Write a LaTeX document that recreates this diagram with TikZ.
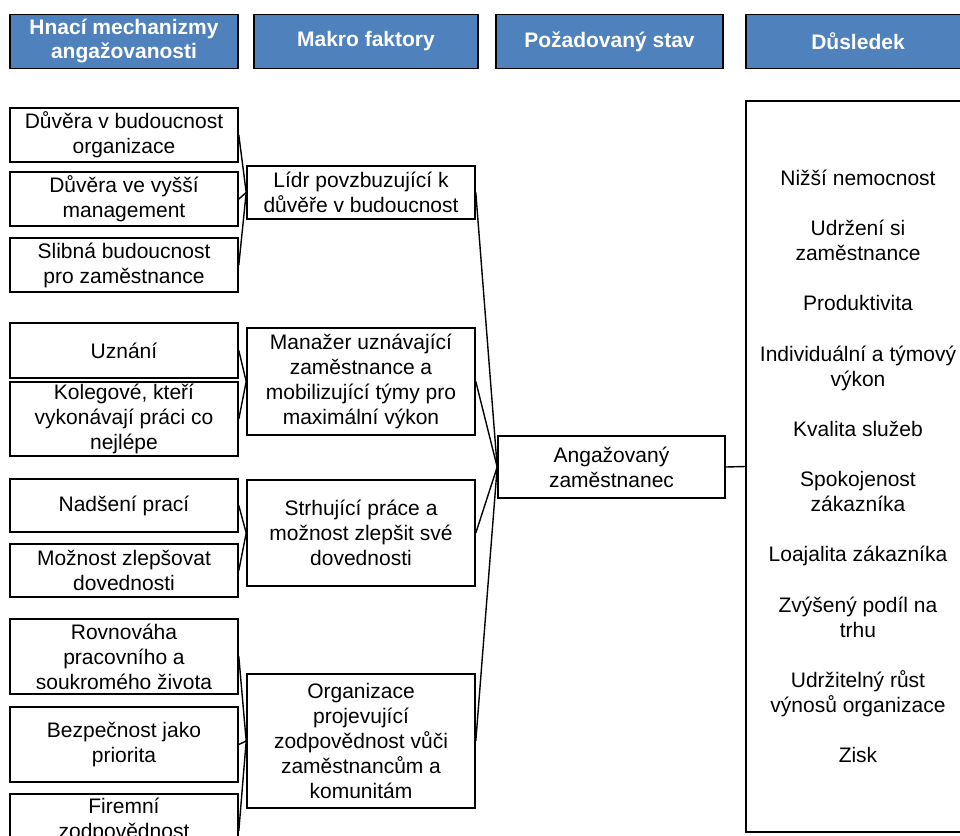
\documentclass[tikz,border=0pt]{standalone}
\usepackage{fontspec}
\setmainfont{Liberation Sans}
\definecolor{headblue}{RGB}{79,129,189}
\begin{document}
\begin{tikzpicture}[x=0.5pt, y=-0.5pt,
  box/.style={draw, line width=0.8pt, inner sep=0pt, align=center, minimum width=114pt, font=\fontsize{10.5}{12.55}\selectfont},
  head/.style={box, fill=headblue, text=white, minimum height=27pt, font=\fontsize{10.5}{12}\selectfont\bfseries},
  link/.style={line width=0.7pt}]
\clip (0,0) rectangle (960,836);
% headings
\node[head] (h1) at (124,41.5) {Hnací mechanizmy\\angažovanosti};
\node[head, minimum width=112pt] (h2) at (366,41.5) {Makro faktory};
\node[head, minimum width=113.5pt] (h3) at (609.5,41.5) {Požadovaný stav};
\node[head, minimum width=112pt] (h4) at (858,41.5) {Důsledek};
% drivers
\node[box, minimum height=27pt] (l1) at (124,135) {Důvěra v budoucnost\\organizace};
\node[box, minimum height=27pt] (l2) at (124,199) {Důvěra ve vyšší\\management};
\node[box, minimum height=27pt] (l3) at (124,265) {Slibná budoucnost\\pro zaměstnance};
\node[box, minimum height=27.5pt] (l4) at (124,350.5) {Uznání};
\node[box, minimum height=37pt] (l5) at (124,419) {Kolegové, kteří\\vykonávají práci co\\nejlépe};
\node[box, minimum height=26.5pt] (l6) at (124,505.5) {Nadšení prací};
\node[box, minimum height=26.5pt] (l7) at (124,570.5) {Možnost zlepšovat\\dovednosti};
\node[box, minimum height=37.5pt] (l8) at (124,656.5) {Rovnováha\\pracovního a\\soukromého života};
\node[box, minimum height=37.5pt] (l9) at (124,744.5) {Bezpečnost jako\\priorita};
\node[box, minimum height=37pt] (l10) at (124,831) {Firemní\\zodpovědnost\\\mbox{}};
% macro factors
\node[box, minimum height=26.5pt] (m1) at (361,192.5) {Lídr povzbuzující k\\důvěře v budoucnost};
\node[box, minimum height=53.5pt] (m2) at (361,381.5) {Manažer uznávající\\zaměstnance a\\mobilizující týmy pro\\maximální výkon};
\node[box, minimum height=53pt] (m3) at (361,533) {Strhující práce a\\možnost zlepšit své\\dovednosti};
\node[box, minimum height=67pt] (m4) at (361,741) {Organizace\\projevující\\zodpovědnost vůči\\zaměstnancům a\\komunitám};
% state and result
\node[box, minimum width=113.5pt, minimum height=31pt] (stav) at (611.5,467) {Angažovaný\\zaměstnanec};
\node[box, minimum width=112pt, minimum height=365.5pt] (dusl) at (858,466.5) {Nižší nemocnost\\[12.55pt]
  Udržení si\\zaměstnance\\[12.55pt]
  Produktivita\\[12.55pt]
  Individuální a týmový\\výkon\\[12.55pt]
  Kvalita služeb\\[12.55pt]
  Spokojenost\\zákazníka\\[12.55pt]
  Loajalita zákazníka\\[12.55pt]
  Zvýšený podíl na\\trhu\\[12.55pt]
  Udržitelný růst\\výnosů organizace\\[12.55pt]
  Zisk};
\foreach \a in {l1,l2,l3} \draw[link] (\a.east) -- (m1.west);
\foreach \a in {l4,l5} \draw[link] (\a.east) -- (m2.west);
\foreach \a in {l6,l7} \draw[link] (\a.east) -- (m3.west);
\foreach \a in {l8,l9,l10} \draw[link] (\a.east) -- (m4.west);
\foreach \m in {m1,m2,m3,m4} \draw[link] (\m.east) -- (stav.west);
\draw[link] (stav.east) -- (dusl.west);
\end{tikzpicture}
\end{document}
